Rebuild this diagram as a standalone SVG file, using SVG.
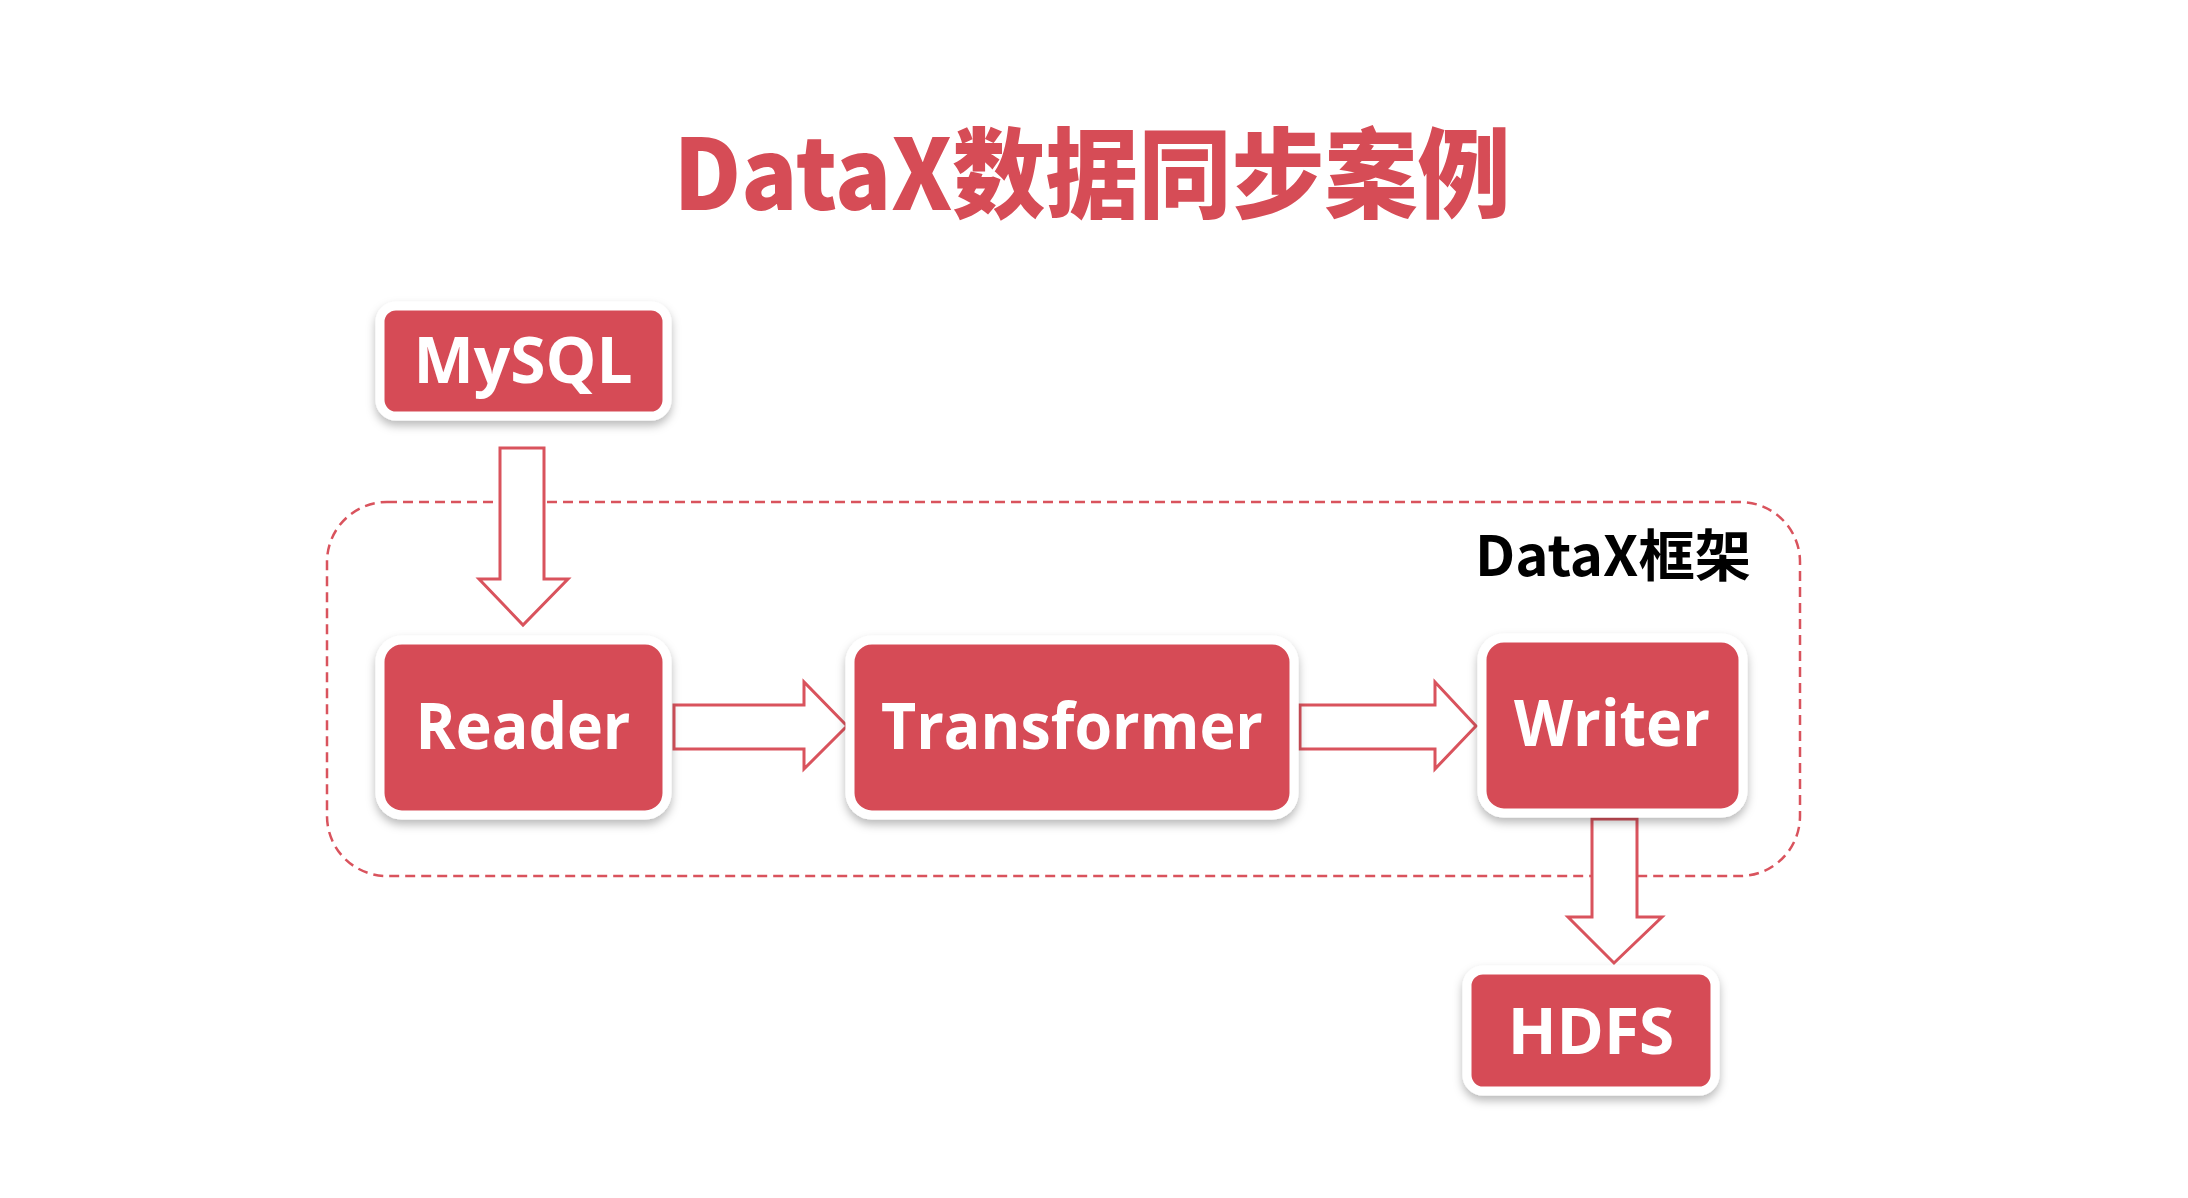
<svg xmlns="http://www.w3.org/2000/svg" width="2188" height="1198" viewBox="0 0 2188 1198">
  <defs>
    <filter id="sh" x="-20%" y="-20%" width="140%" height="150%">
      <feDropShadow dx="0" dy="5" stdDeviation="5" flood-color="#000" flood-opacity="0.28"/>
    </filter>
  </defs>
  <style>
    .box { fill: #D64C56; stroke: #ffffff; stroke-width: 9; filter: url(#sh); }
    .lbl { fill: #ffffff; font-family: "Open Sans", "Noto Sans", sans-serif; font-weight: bold; font-size: 64px; text-anchor: middle; }
    .arrow { fill: #ffffff; stroke: #D9535D; stroke-width: 3; stroke-linejoin: miter; }
    .frame { fill: none; stroke: #D9535D; stroke-width: 2.5; stroke-dasharray: 10 6; }
    .title { fill: #D64C56; font-family: "Noto Sans CJK SC", sans-serif; font-weight: 900; font-size: 98px; text-anchor: middle; }
    .ftitle { fill: #000000; font-family: "Noto Sans CJK SC", sans-serif; font-weight: bold; font-size: 56px; text-anchor: middle; }
  </style>
  <rect width="2188" height="1198" fill="#ffffff"/>

  <text class="title" x="1092" y="210" textLength="837" lengthAdjust="spacingAndGlyphs">DataX数据同步案例</text>

  <g id="frame">
    <rect class="frame" x="327" y="502" width="1473" height="374" rx="60" ry="60"/>
    <text class="ftitle" x="1613" y="576" textLength="276" lengthAdjust="spacingAndGlyphs">DataX框架</text>
  </g>

  <g id="connectors">
    <polygon class="arrow" points="500,448 544,448 544,579 568,579 523,625 479,579 500,579"/>
    <polygon class="arrow" points="674,705 804,705 804,682 847,726 804,769 804,749 674,749"/>
    <polygon class="arrow" points="1300,705 1435,705 1435,682 1476,726 1435,769 1435,749 1300,749"/>
    <polygon class="arrow" points="1592,819 1637,819 1637,917 1662,917 1614,963 1568,917 1592,917"/>
  </g>

  <g id="mysql">
    <rect class="box" x="380" y="306" width="287" height="110" rx="16"/>
    <text class="lbl" x="523" y="383">MySQL</text>
  </g>
  <g id="reader">
    <rect class="box" x="380" y="640" width="287" height="175" rx="22"/>
    <text class="lbl" x="523" y="749" textLength="215" lengthAdjust="spacingAndGlyphs">Reader</text>
  </g>
  <g id="transformer">
    <rect class="box" x="850" y="640" width="444" height="175" rx="22"/>
    <text class="lbl" x="1072" y="749" textLength="382" lengthAdjust="spacingAndGlyphs">Transformer</text>
  </g>
  <g id="writer">
    <rect class="box" x="1482" y="638" width="261" height="175" rx="22"/>
    <text class="lbl" x="1612" y="746" textLength="196" lengthAdjust="spacingAndGlyphs">Writer</text>
  </g>
  <g id="hdfs">
    <rect class="box" x="1467" y="970" width="248" height="121" rx="16"/>
    <text class="lbl" x="1591" y="1054">HDFS</text>
  </g>
</svg>
